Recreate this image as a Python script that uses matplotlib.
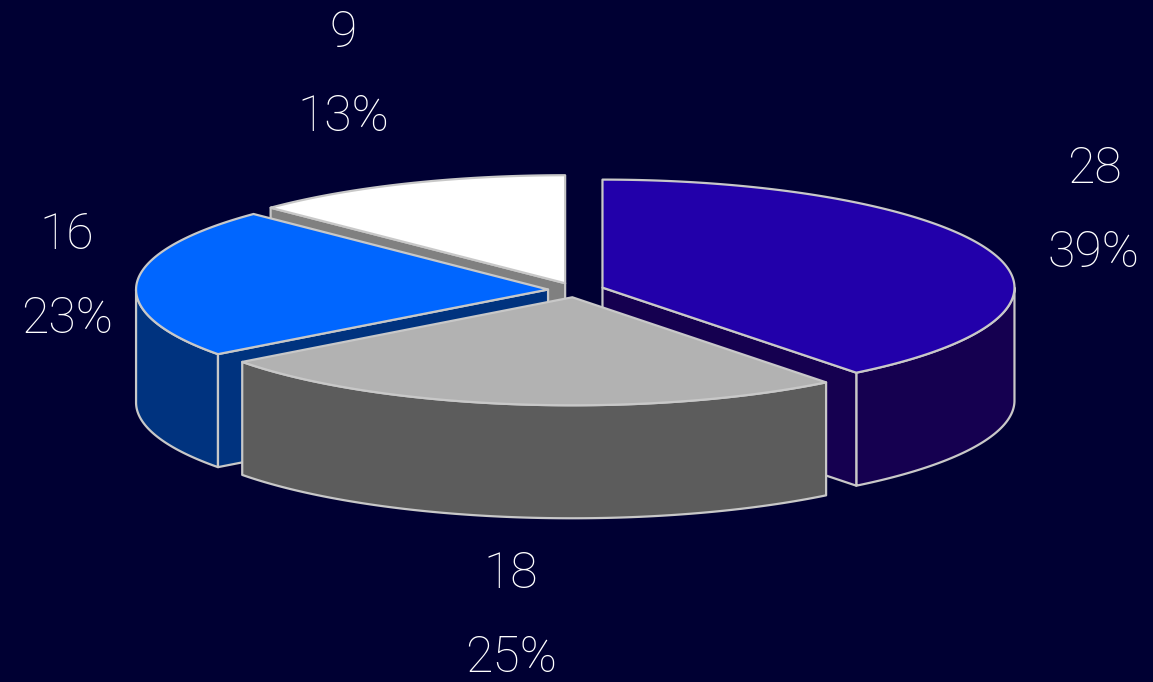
import numpy as np
import matplotlib.pyplot as plt
from matplotlib.patches import Polygon

# Slice values, clockwise from 12 o'clock
values = [28, 18, 16, 9]
top_colors = ['#2200AA', '#B2B2B2', '#0066FF', '#FFFFFF']
side_colors = ['#150050', '#5C5C5C', '#00337F', '#808080']
# baseline of the value label for each slice (pixels)
label_xy = [(1094, 183), (511, 588), (67, 249), (343, 47)]

bg = '#000033'
edge = '#C8C8C8'

# pie geometry in pixel units
cx, cy = 576, 290
rx, ry = 412, 108
depth = 113
explode = 28

fig = plt.figure(figsize=(11.53, 6.82), dpi=100, facecolor=bg)
ax = fig.add_axes([0, 0, 1, 1])
ax.set_xlim(0, 1153)
ax.set_ylim(682, 0)
ax.set_facecolor(bg)
ax.axis('off')


def rim(t, ox, oy, dz=0):
    t = np.radians(t)
    return np.column_stack([ox + rx * np.cos(t), oy - ry * np.sin(t) + dz])


def poly(pts, color):
    ax.add_patch(Polygon(pts, closed=True, facecolor=color, edgecolor=edge,
                         linewidth=1.6, joinstyle='round'))


total = sum(values)
fracs = np.array(values) / total
ends = np.cumsum(fracs)
starts = ends - fracs

slices = []
for i in range(len(values)):
    t1 = 90 - ends[i] * 360
    t2 = 90 - starts[i] * 360
    tm = (t1 + t2) / 2
    ox = cx + explode * np.cos(np.radians(tm))
    oy = cy - explode * ry / rx * np.sin(np.radians(tm))
    slices.append((i, t1, t2, tm, ox, oy))

# paint from back to front
slices.sort(key=lambda s: -np.sin(np.radians(s[3])))

for i, t1, t2, tm, ox, oy in slices:
    # outer wall on the front half of the ellipse
    for k in (-1, 0, 1):
        lo = max(t1, k * 360 - 180)
        hi = min(t2, k * 360)
        if hi > lo:
            ts = np.linspace(lo, hi, 200)
            upper = rim(ts, ox, oy)
            lower = rim(ts, ox, oy, depth)[::-1]
            poly(np.vstack([upper, lower]), side_colors[i])
    # radial cut faces that face the viewer
    for t, visible in ((t1, np.cos(np.radians(t1)) > 1e-6),
                       (t2, np.cos(np.radians(t2)) < -1e-6)):
        if visible:
            p = rim([t], ox, oy)[0]
            pts = [(ox, oy), p, (p[0], p[1] + depth), (ox, oy + depth)]
            poly(pts, side_colors[i])
    # top face
    ts = np.linspace(t1, t2, 300)
    poly(np.vstack([[ox, oy], rim(ts, ox, oy)]), top_colors[i])

for i, v in enumerate(values):
    x, y = label_xy[i]
    pct = round(100 * v / total)
    ax.text(x, y, str(v), color='white', fontsize=36, family='Roboto',
            fontweight='light', ha='center', va='baseline')
    ax.text(x, y + 84, f'{pct}%', color='white', fontsize=36, family='Roboto',
            fontweight='light', ha='center', va='baseline')

fig.savefig('out.png', dpi=100, facecolor=bg)
